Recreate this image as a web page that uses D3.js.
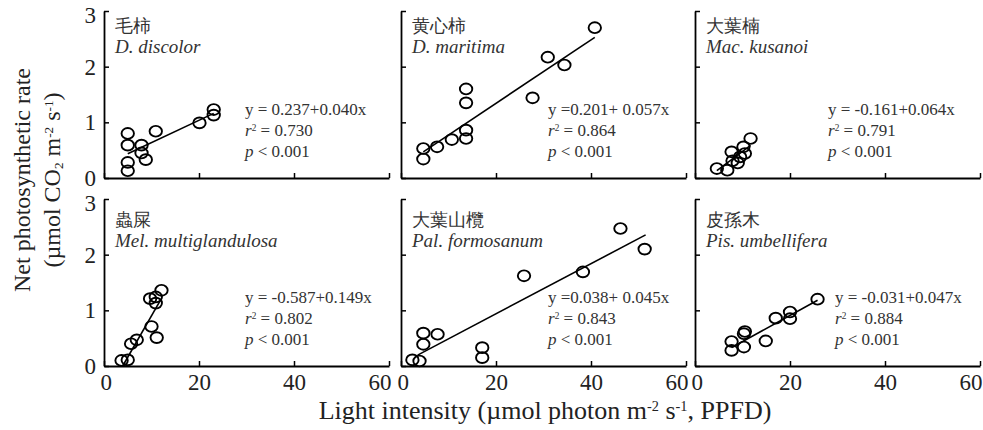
<!DOCTYPE html>
<html>
<head>
<meta charset="utf-8">
<script src="https://cdn.jsdelivr.net/npm/d3@7"></script>
<style>
  body { margin: 0; background: #fff; }
  svg text { font-family: "Liberation Serif", "Times New Roman", serif; }
</style>
</head>
<body>
<div id="vis"></div>
<script>
// ---- data ----
const SPECIES_ZH = ["毛柿", "黄心柿", "大葉楠", "蟲屎", "大葉山欖", "皮孫木"];
const SPECIES_LATIN = ["D. discolor", "D. maritima", "Mac. kusanoi",
                       "Mel. multiglandulosa", "Pal. formosanum", "Pis. umbellifera"];

const EQUATIONS = ["y = 0.237+0.040x", "y =0.201+ 0.057x", "y = -0.161+0.064x",
                   "y = -0.587+0.149x", "y =0.038+ 0.045x", "y = -0.031+0.047x"];
const R_SQUARED = ["0.730", "0.864", "0.791", "0.802", "0.843", "0.884"];
const INTERCEPTS = [0.237, 0.201, -0.161, -0.587, 0.038, -0.031];
const SLOPES = [0.040, 0.057, 0.064, 0.149, 0.045, 0.047];
const FIT_RANGE = [[5.0, 23.1], [4.7, 40.8], [4.6, 11.7], [4.0, 11.8], [3.5, 51.5], [7.7, 25.8]];

// light intensity (x) and net photosynthetic rate (y) per species
const LIGHT_DISCOLOR = [5.0, 5.0, 5.0, 5.0, 7.9, 7.9, 8.8, 10.9, 20.1, 23.1, 23.1];
const RATE_DISCOLOR  = [0.80, 0.59, 0.28, 0.13, 0.59, 0.45, 0.33, 0.84, 0.99, 1.23, 1.13];

const LIGHT_MARITIMA = [4.7, 4.7, 7.6, 10.7, 13.7, 13.7, 13.7, 13.7, 27.7, 30.9, 34.4, 40.8];
const RATE_MARITIMA  = [0.53, 0.34, 0.56, 0.69, 1.60, 1.35, 0.86, 0.71, 1.44, 2.17, 2.03, 2.70];

const LIGHT_KUSANOI = [4.6, 6.8, 7.9, 7.7, 9.0, 9.5, 10.2, 10.5, 11.7];
const RATE_KUSANOI  = [0.17, 0.14, 0.31, 0.47, 0.27, 0.38, 0.56, 0.44, 0.71];

const LIGHT_MULTI = [3.7, 5.0, 5.7, 6.9, 9.7, 10.0, 10.9, 10.9, 11.1, 12.1];
const RATE_MULTI  = [0.10, 0.11, 0.40, 0.47, 1.21, 0.71, 1.24, 1.13, 0.51, 1.36];

const LIGHT_FORMOSANUM = [2.4, 3.9, 4.7, 4.7, 7.7, 17.1, 17.1, 25.9, 38.3, 46.2, 51.3];
const RATE_FORMOSANUM  = [0.11, 0.09, 0.59, 0.39, 0.57, 0.33, 0.15, 1.62, 1.69, 2.47, 2.10];

const LIGHT_UMBELLIFERA = [7.7, 7.7, 10.3, 10.3, 10.5, 14.9, 17.0, 20.0, 20.0, 25.8];
const RATE_UMBELLIFERA  = [0.44, 0.28, 0.58, 0.34, 0.62, 0.45, 0.86, 0.97, 0.85, 1.20];

const LIGHT = [LIGHT_DISCOLOR, LIGHT_MARITIMA, LIGHT_KUSANOI, LIGHT_MULTI, LIGHT_FORMOSANUM, LIGHT_UMBELLIFERA];
const RATE = [RATE_DISCOLOR, RATE_MARITIMA, RATE_KUSANOI, RATE_MULTI, RATE_FORMOSANUM, RATE_UMBELLIFERA];

const X_TICKS = [0, 20, 40, 60];
const Y_TICKS = [0, 1, 2, 3];

// ---- layout ----
const WIDTH = 983, HEIGHT = 430;
const COL_X = [104, 401, 695];
const ROW_Y = [11, 199];
const LABEL_DY = [0, 6];
const PANEL_W = 285, PANEL_H = 167;
const EQ_DX = [141, 147, 133, 141, 147, 140];
const TEXT_COLOR = "#333";

const svg = d3.select("#vis").append("svg")
  .attr("width", WIDTH)
  .attr("height", HEIGHT);

const X_SCALE = d3.scaleLinear().domain([0, 60]).range([0, PANEL_W]);
const Y_SCALE = d3.scaleLinear().domain([0, 3]).range([PANEL_H, 0]);

// writes a list of [text, kind] pieces into a text element
function richText(sel, parts, size) {
  parts.forEach(([t, kind]) => {
    const ts = sel.append("tspan").text(t);
    if (kind === "sup") ts.attr("font-size", size * 0.55).attr("baseline-shift", "55%");
    if (kind === "sub") ts.attr("font-size", size * 0.55).attr("baseline-shift", "-20%");
    if (kind === "it") ts.attr("font-style", "italic");
  });
}

SPECIES_ZH.forEach((zh, i) => {
  const col = i % 3, row = Math.floor(i / 3);
  const g = svg.append("g")
    .attr("transform", "translate(" + COL_X[col] + "," + ROW_Y[row] + ")");

  // x axis, ticks pointing inwards
  const xAxis = g.append("g")
    .attr("transform", "translate(0," + PANEL_H + ")")
    .call(d3.axisBottom(X_SCALE).tickValues(X_TICKS).tickSizeInner(-5).tickSizeOuter(0).tickPadding(8)
      .tickFormat(row === 1 ? d3.format("d") : ""));
  xAxis.select(".domain").attr("stroke-width", 1.8);
  xAxis.selectAll(".tick line").attr("stroke-width", 1.5);
  xAxis.selectAll("text")
    .attr("font-size", 23).attr("fill", "#222")
    .attr("font-family", "Liberation Serif, serif")
    .attr("text-anchor", (d) => d === 0 ? "start" : (d === 60 ? "end" : "middle"))
    .attr("dx", (d) => d === 0 ? -4 : (d === 60 ? 2 : 0));

  // y axis
  const yAxis = g.append("g")
    .call(d3.axisLeft(Y_SCALE).tickValues(Y_TICKS).tickSizeInner(-5).tickSizeOuter(0).tickPadding(8)
      .tickFormat(col === 0 ? d3.format("d") : ""));
  yAxis.select(".domain").attr("stroke-width", 1.8);
  yAxis.selectAll(".tick line").attr("stroke-width", 1.5);
  yAxis.selectAll("text")
    .attr("font-size", 23).attr("fill", "#222")
    .attr("font-family", "Liberation Serif, serif")
    .attr("y", (d) => d === 3 ? 4 : 0);

  // labels
  g.append("text")
    .attr("x", 11).attr("y", 21 + LABEL_DY[row])
    .attr("font-family", "Noto Sans CJK TC, Noto Sans CJK JP, sans-serif")
    .attr("font-size", 18)
    .attr("fill", TEXT_COLOR)
    .text(zh);
  g.append("text")
    .attr("x", 11).attr("y", 42 + LABEL_DY[row])
    .attr("font-size", 19).attr("font-style", "italic")
    .attr("fill", TEXT_COLOR)
    .text(SPECIES_LATIN[i]);

  // regression line
  const fit = FIT_RANGE[i].map((x) => [x, INTERCEPTS[i] + SLOPES[i] * x]);
  g.append("path")
    .datum(fit)
    .attr("d", d3.line().x((d) => X_SCALE(d[0])).y((d) => Y_SCALE(d[1])))
    .attr("stroke", "#000").attr("stroke-width", 1.6).attr("fill", "none");

  // points
  g.selectAll("ellipse.pt")
    .data(LIGHT[i].map((x, k) => [x, RATE[i][k]]))
    .enter()
    .append("ellipse")
      .attr("class", "pt")
      .attr("cx", (d) => X_SCALE(d[0]))
      .attr("cy", (d) => Y_SCALE(d[1]))
      .attr("rx", 6.2).attr("ry", 5.4)
      .attr("fill", "none").attr("stroke", "#000").attr("stroke-width", 1.9);

  // equation block
  const eq = g.append("g").attr("fill", TEXT_COLOR).attr("font-size", 17);
  eq.append("text").attr("x", EQ_DX[i]).attr("y", PANEL_H - 63).text(EQUATIONS[i]);
  richText(eq.append("text").attr("x", EQ_DX[i]).attr("y", PANEL_H - 42),
    [["r", "it"], ["2", "sup"], [" = " + R_SQUARED[i], ""]], 17);
  richText(eq.append("text").attr("x", EQ_DX[i]).attr("y", PANEL_H - 21),
    [["p", "it"], [" < 0.001", ""]], 17);
});

// axis titles
const xTitle = svg.append("text")
  .attr("x", 545).attr("y", 419)
  .attr("text-anchor", "middle")
  .attr("font-size", 26).attr("fill", "#222");
richText(xTitle, [["Light intensity (µmol photon m", ""], ["-2", "sup"], [" s", ""], ["-1", "sup"], [", PPFD)", ""]], 26);

const yTitle = svg.append("g").attr("transform", "translate(30,180) rotate(-90)");
yTitle.append("text")
  .attr("text-anchor", "middle")
  .attr("font-size", 24).attr("fill", "#222")
  .text("Net photosynthetic rate");
richText(yTitle.append("text")
  .attr("y", 30)
  .attr("text-anchor", "middle")
  .attr("font-size", 24).attr("fill", "#222"),
  [["(µmol CO", ""], ["2", "sub"], [" m", ""], ["-2", "sup"], [" s", ""], ["-1", "sup"], [")", ""]], 24);
</script>
</body>
</html>
